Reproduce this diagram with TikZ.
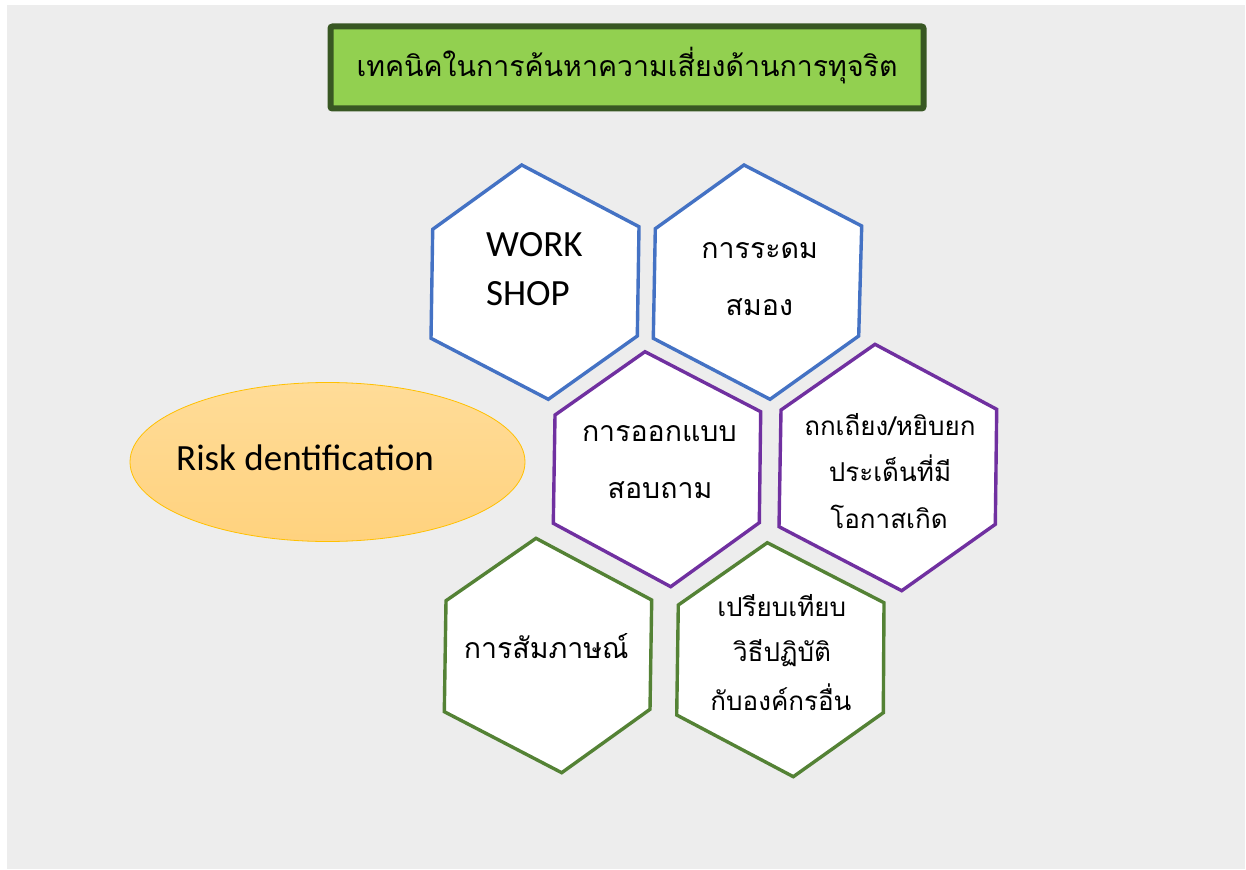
\documentclass[tikz,border=0pt]{standalone}
\usepackage{fontspec}
\usetikzlibrary{shapes.geometric}
\newfontfamily\thaifont[Script=Thai]{Loma}
\newfontfamily\latinfont{Carlito}
\definecolor{bggray}{HTML}{EDEDED}
\definecolor{hblue}{HTML}{4472C4}
\definecolor{hpurple}{HTML}{7030A0}
\definecolor{hgreen}{HTML}{548235}
\definecolor{tfill}{HTML}{92D050}
\definecolor{tdraw}{HTML}{385723}
\definecolor{etop}{HTML}{FFDC98}
\definecolor{ebot}{HTML}{FFD27E}
\definecolor{edraw}{HTML}{FFC000}
\tikzset{
  hexbase/.style={line width=3.4pt, fill=white, line join=miter},
  hexb/.style={hexbase, draw=hblue},
  hexp/.style={hexbase, draw=hpurple},
  hexg/.style={hexbase, draw=hgreen},
  thl/.style={anchor=base, inner sep=0pt, font=\thaifont\fontsize{28.5}{34}\selectfont},
  ths/.style={anchor=base, inner sep=0pt, font=\thaifont\fontsize{26}{32}\selectfont},
  lat/.style={anchor=base west, inner sep=0pt, font=\latinfont\fontsize{37}{44}\selectfont},
}
\begin{document}
\begin{tikzpicture}[x=1pt,y=-1pt]
\useasboundingbox (0,0) rectangle (1246,869);
\fill[white] (0,0) rectangle (1246,869);
\fill[bggray] (7,5) rectangle (1245,869);

% title
\draw[fill=tfill, draw=tdraw, line width=6pt, rounded corners=2pt] (330.5,26.5) rectangle (923.5,108.5);
\node[thl] (title) at (627,76.7) {เทคนิคในการค้นหาความเสี่ยงด้านการทุจริต};

% ellipse
\node[ellipse, draw=edraw, line width=0.8pt, top color=etop, bottom color=ebot,
      minimum width=395pt, minimum height=159pt, inner sep=0pt] (risk) at (327.5,462) {};
\node[anchor=base, inner sep=0pt, font=\latinfont\fontsize{37}{44}\selectfont] (risktext) at (305,470) {Risk dentification};

% hexagon 1
\draw[hexb] (521.7,165) -- (639,226.7) -- (637.3,336) -- (548.3,399.3) -- (431,338.3) -- (432.7,229.3) -- cycle;
\node[lat] (h1a) at (486,256.7) {WORK};
\node[lat] (h1b) at (486,305.7) {SHOP};

% hexagon 2
\draw[hexb] (744,165) -- (861.7,226) -- (858.7,336) -- (770,399.3) -- (653.3,338.3) -- (655.3,228.7) -- cycle;
\node[thl] (h2a) at (759.7,258.3) {การระดม};
\node[thl] (h2b) at (759.3,315) {สมอง};

% hexagon 3
\draw[hexp] (645,351.7) -- (760.7,411.7) -- (759.3,522.7) -- (670.7,586.7) -- (553.3,523.3) -- (555,415) -- cycle;
\node[thl] (h3a) at (659.3,441.7) {การออกแบบ};
\node[thl] (h3b) at (660,498.3) {สอบถาม};

% hexagon 4
\draw[hexp] (875,344.3) -- (996.7,409.3) -- (995.3,524.3) -- (901.7,590.7) -- (779,526.7) -- (781,410) -- cycle;
\node[ths] (h4a) at (890,435) {ถกเถียง/หยิบยก};
\node[ths] (h4b) at (890,481.7) {ประเด็นที่มี};
\node[ths] (h4c) at (889,528.3) {โอกาสเกิด};

% hexagon 5
\draw[hexg] (536,538.3) -- (651.7,600) -- (650,709.3) -- (561.7,772.7) -- (444.3,711.7) -- (446,600.7) -- cycle;
\node[thl] (h5a) at (546.3,658.3) {การสัมภาษณ์};

% hexagon 6
\draw[hexg] (767.3,542.7) -- (884,602.7) -- (883.3,712.7) -- (793.3,776.7) -- (676.7,715) -- (678.3,605) -- cycle;
\node[ths] (h6a) at (781.7,616.7) {เปรียบเทียบ};
\node[ths] (h6b) at (782,661.7) {วิธีปฏิบัติ};
\node[ths] (h6c) at (781,710) {กับองค์กรอื่น};
\end{tikzpicture}
\end{document}
